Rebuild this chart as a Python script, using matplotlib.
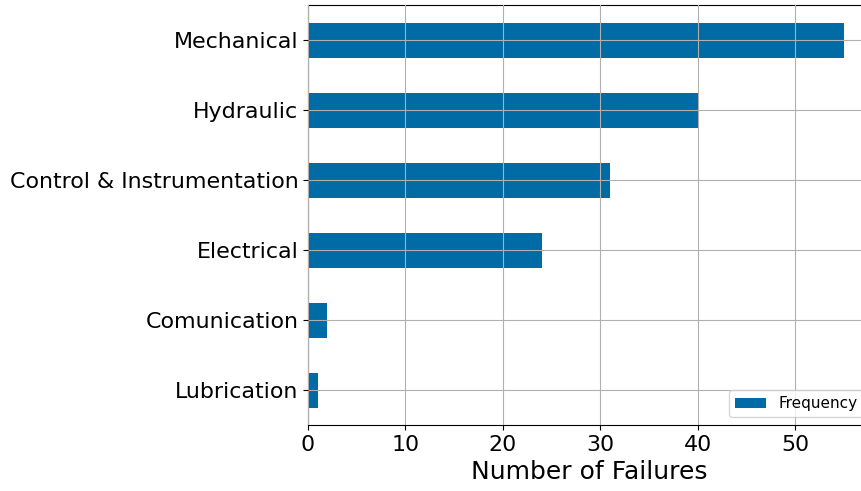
import matplotlib
matplotlib.use("Agg")
import matplotlib.pyplot as plt

categories = ["Lubrication", "Comunication", "Electrical", "Control & Instrumentation", "Hydraulic", "Mechanical"]
frequency = [1, 2, 24, 31, 40, 55]

fig = plt.figure(figsize=(8.62, 4.91), dpi=100)
ax = fig.add_axes([308/862, 1-425/491, (871-308)/862, (425-5)/491])
ypos = list(range(len(categories)))
ax.barh(ypos, frequency, height=0.5, color="#006BA4", label="Frequency")
ax.set_yticks(ypos)
ax.set_yticklabels(categories)
ax.set_ylim(-0.5, len(categories) - 0.5)
ax.set_xlim(0, max(frequency) * 1.05)
ax.set_xticks([0, 10, 20, 30, 40, 50])
ax.grid(True, color="#b0b0b0", linewidth=0.8)
ax.set_axisbelow(False)
ax.spines["right"].set_visible(False)
ax.tick_params(labelsize=15.9)
ax.set_xlabel("Number of Failures", fontsize=18)
ax.legend(loc="lower right", fontsize=11)
fig.savefig("out.png", dpi=100)
